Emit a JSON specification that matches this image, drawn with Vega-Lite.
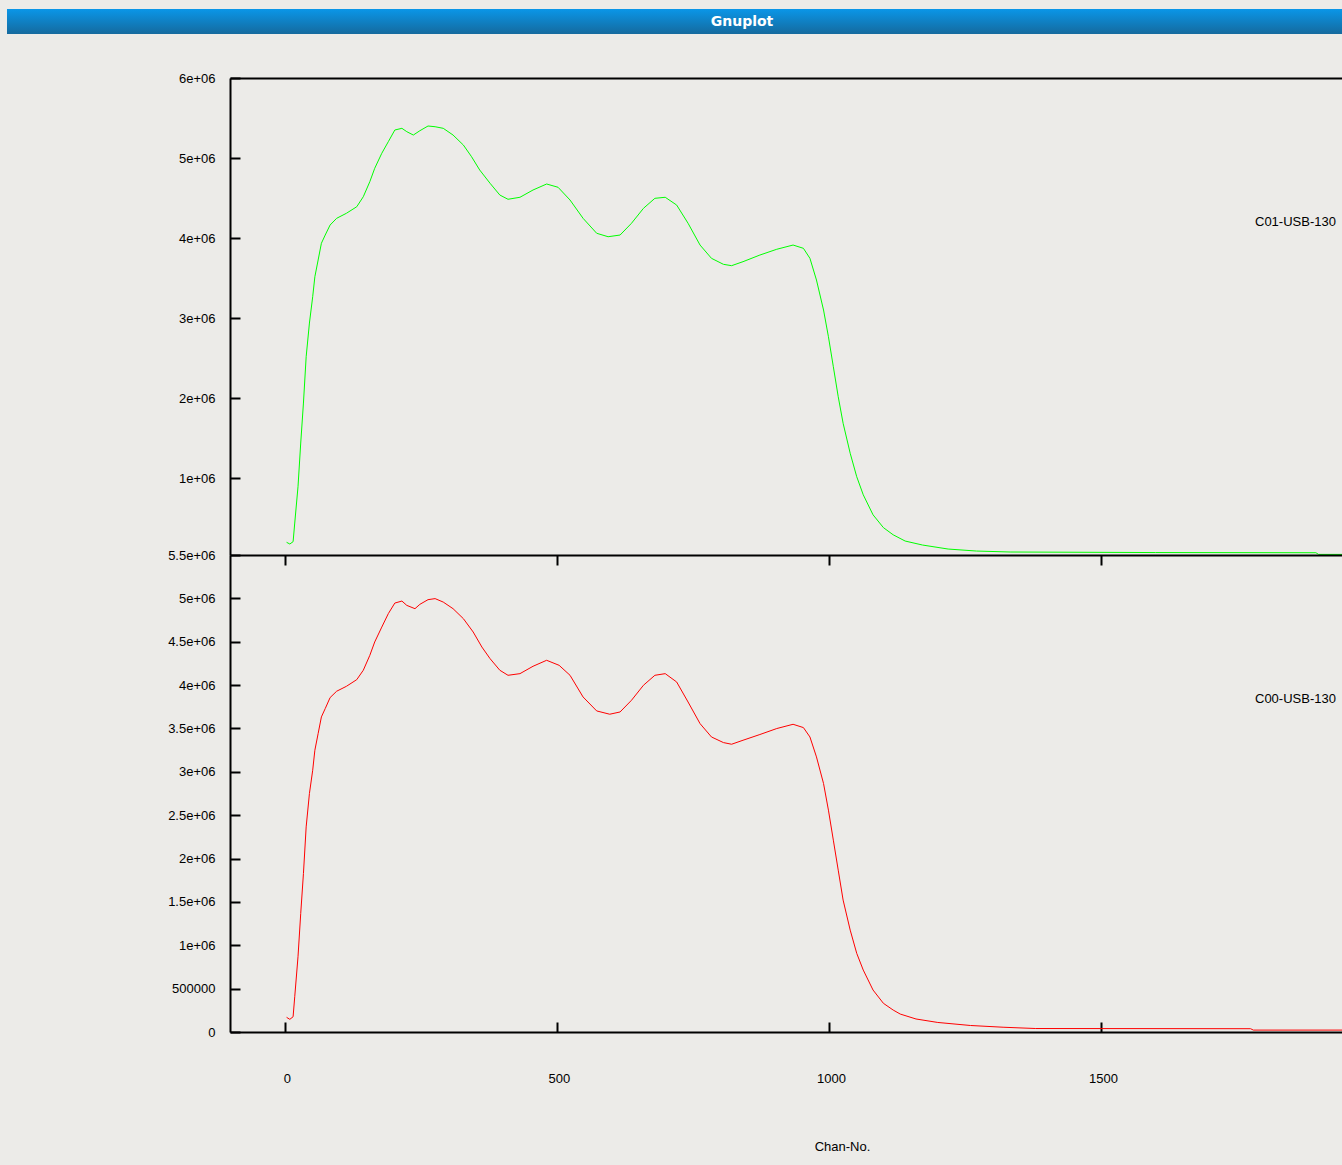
{
  "$schema": "https://vega.github.io/schema/vega-lite/v6.json",
  "background": "#ecebe8",
  "padding": {"left": 7, "top": 9, "right": 0, "bottom": 15},
  "config": {
    "view": {"stroke": null},
    "axis": {
      "labelFont": "Liberation Sans", "labelFontSize": 13, "labelColor": "#000",
      "titleFont": "Liberation Sans", "titleFontSize": 13, "titleFontWeight": "normal", "titleColor": "#000",
      "domainColor": "#000", "domainWidth": 2, "tickColor": "#000", "tickWidth": 2,
      "grid": false, "labelOverlap": false, "labelFlush": false
    }
  },
  "datasets": {
    "c01": [{"chan":3,"val":196000},{"chan":9,"val":175000},{"chan":15,"val":204000},{"chan":18,"val":437000},{"chan":24,"val":891000},{"chan":29,"val":1437000},{"chan":34,"val":1937000},{"chan":39,"val":2516000},{"chan":45,"val":2937000},{"chan":51,"val":3266000},{"chan":55,"val":3516000},{"chan":61,"val":3725000},{"chan":67,"val":3934000},{"chan":74,"val":4037000},{"chan":83,"val":4162000},{"chan":95,"val":4246000},{"chan":113,"val":4309000},{"chan":132,"val":4391000},{"chan":144,"val":4516000},{"chan":156,"val":4704000},{"chan":165,"val":4871000},{"chan":178,"val":5059000},{"chan":190,"val":5204000},{"chan":202,"val":5350000},{"chan":215,"val":5371000},{"chan":224,"val":5329000},{"chan":236,"val":5287000},{"chan":248,"val":5341000},{"chan":263,"val":5400000},{"chan":276,"val":5391000},{"chan":291,"val":5371000},{"chan":309,"val":5287000},{"chan":328,"val":5162000},{"chan":343,"val":5016000},{"chan":358,"val":4850000},{"chan":377,"val":4684000},{"chan":395,"val":4537000},{"chan":410,"val":4484000},{"chan":432,"val":4509000},{"chan":456,"val":4600000},{"chan":481,"val":4675000},{"chan":502,"val":4634000},{"chan":524,"val":4475000},{"chan":548,"val":4246000},{"chan":573,"val":4059000},{"chan":594,"val":4016000},{"chan":616,"val":4037000},{"chan":637,"val":4184000},{"chan":659,"val":4371000},{"chan":680,"val":4496000},{"chan":699,"val":4509000},{"chan":720,"val":4412000},{"chan":741,"val":4184000},{"chan":763,"val":3912000},{"chan":784,"val":3746000},{"chan":806,"val":3671000},{"chan":821,"val":3654000},{"chan":842,"val":3704000},{"chan":873,"val":3787000},{"chan":904,"val":3859000},{"chan":934,"val":3912000},{"chan":953,"val":3871000},{"chan":965,"val":3746000},{"chan":977,"val":3475000},{"chan":990,"val":3100000},{"chan":999,"val":2766000},{"chan":1008,"val":2391000},{"chan":1017,"val":2016000},{"chan":1026,"val":1684000},{"chan":1039,"val":1309000},{"chan":1051,"val":1016000},{"chan":1063,"val":790000},{"chan":1081,"val":540000},{"chan":1100,"val":380000},{"chan":1118,"val":290000},{"chan":1140,"val":212000},{"chan":1172,"val":162000},{"chan":1219,"val":112000},{"chan":1271,"val":87000},{"chan":1333,"val":75000},{"chan":1600,"val":68000},{"chan":1895,"val":66000},{"chan":1900,"val":45000},{"chan":2048,"val":45000}],
    "c00": [{"chan":3,"val":169000},{"chan":9,"val":146000},{"chan":15,"val":176000},{"chan":18,"val":407000},{"chan":24,"val":868000},{"chan":29,"val":1367000},{"chan":34,"val":1828000},{"chan":39,"val":2365000},{"chan":45,"val":2750000},{"chan":51,"val":3018000},{"chan":55,"val":3249000},{"chan":61,"val":3441000},{"chan":67,"val":3633000},{"chan":74,"val":3729000},{"chan":83,"val":3856000},{"chan":95,"val":3929000},{"chan":113,"val":3986000},{"chan":132,"val":4063000},{"chan":144,"val":4171000},{"chan":156,"val":4343000},{"chan":165,"val":4497000},{"chan":178,"val":4669000},{"chan":190,"val":4824000},{"chan":202,"val":4946000},{"chan":215,"val":4969000},{"chan":224,"val":4919000},{"chan":239,"val":4881000},{"chan":248,"val":4931000},{"chan":263,"val":4985000},{"chan":276,"val":4997000},{"chan":291,"val":4957000},{"chan":309,"val":4881000},{"chan":328,"val":4766000},{"chan":346,"val":4612000},{"chan":362,"val":4439000},{"chan":377,"val":4305000},{"chan":395,"val":4171000},{"chan":410,"val":4113000},{"chan":432,"val":4132000},{"chan":456,"val":4217000},{"chan":481,"val":4286000},{"chan":504,"val":4228000},{"chan":524,"val":4113000},{"chan":548,"val":3863000},{"chan":573,"val":3702000},{"chan":597,"val":3664000},{"chan":616,"val":3690000},{"chan":637,"val":3825000},{"chan":659,"val":3998000},{"chan":680,"val":4113000},{"chan":699,"val":4132000},{"chan":720,"val":4036000},{"chan":741,"val":3805000},{"chan":763,"val":3556000},{"chan":784,"val":3402000},{"chan":806,"val":3337000},{"chan":821,"val":3318000},{"chan":842,"val":3364000},{"chan":873,"val":3430000},{"chan":904,"val":3499000},{"chan":934,"val":3548000},{"chan":953,"val":3510000},{"chan":965,"val":3402000},{"chan":977,"val":3172000},{"chan":990,"val":2865000},{"chan":999,"val":2558000},{"chan":1008,"val":2212000},{"chan":1017,"val":1866000},{"chan":1026,"val":1521000},{"chan":1039,"val":1175000},{"chan":1051,"val":907000},{"chan":1063,"val":714000},{"chan":1081,"val":484000},{"chan":1100,"val":331000},{"chan":1118,"val":253000},{"chan":1131,"val":207000},{"chan":1160,"val":150000},{"chan":1200,"val":110000},{"chan":1260,"val":75000},{"chan":1320,"val":55000},{"chan":1380,"val":40000},{"chan":1775,"val":38000},{"chan":1780,"val":22000},{"chan":2048,"val":22000}]
  },
  "spacing": 38,
  "center": true,
  "vconcat": [
    {
      "width": 1558,
      "height": 25,
      "data": {"values": [{"t": "Gnuplot"}]},
      "layer": [
        {
          "mark": {"type": "rect", "fill": {"gradient": "linear", "x1": 0, "y1": 0, "x2": 0, "y2": 1, "stops": [{"offset": 0, "color": "#0a96e8"}, {"offset": 1, "color": "#156a9e"}]}},
          "encoding": {}
        },
        {
          "mark": {"type": "text", "color": "#ffffff", "font": "DejaVu Sans", "fontWeight": "bold", "fontSize": 14, "dx": -44, "baseline": "middle", "align": "center"},
          "encoding": {"text": {"field": "t"}}
        }
      ]
    },
    {
      "spacing": 0,
      "bounds": "flush",
      "resolve": {"scale": {"color": "independent"}, "legend": {"color": "independent"}},
      "vconcat": [
        {
          "width": 1112,
          "height": 477,
          "data": {"name": "c01"},
          "mark": {"type": "line", "strokeWidth": 1, "clip": true},
          "encoding": {
            "x": {"field": "chan", "type": "quantitative", "scale": {"domain": [-101, 1943], "nice": false, "zero": false},
                  "axis": {"orient": "top", "ticks": false, "labels": false, "title": null}},
            "y": {"field": "val", "type": "quantitative", "scale": {"domain": [37500, 6000000], "nice": false, "zero": false},
                  "axis": {"values": [1000000, 2000000, 3000000, 4000000, 5000000, 6000000], "tickSize": -10, "labelPadding": 25, "title": null, "minExtent": 223, "maxExtent": 223,
                           "labelExpr": "datum.value == 0 ? '0' : datum.value < 1000000 ? format(datum.value, 'd') : replace(format(datum.value, '~e'), 'e+', 'e+0')"}},
            "color": {"datum": "C01-USB-130", "type": "nominal", "scale": {"domain": ["C01-USB-130"], "range": ["#00ff00"]},
                      "legend": {"orient": "none", "legendX": 1012, "legendY": 137, "title": null, "symbolSize": 0, "symbolOpacity": 0, "labelOffset": 0, "labelFont": "Liberation Sans", "labelFontSize": 13, "labelColor": "#000"}}
          }
        },
        {
          "width": 1112,
          "height": 477,
          "data": {"name": "c00"},
          "resolve": {"axis": {"x": "independent"}},
          "layer": [
            {
              "mark": {"type": "line", "strokeWidth": 1, "clip": true},
              "encoding": {
                "x": {"field": "chan", "type": "quantitative", "scale": {"domain": [-101, 1943], "nice": false, "zero": false},
                      "axis": {"orient": "bottom", "values": [0, 500, 1000, 1500], "format": "d", "tickSize": -10, "labelPadding": 50, "labelOffset": 2, "title": "Chan-No.", "titlePadding": 55, "titleX": 612}},
                "y": {"field": "val", "type": "quantitative", "scale": {"domain": [0, 5500000], "nice": false},
                      "axis": {"values": [0, 500000, 1000000, 1500000, 2000000, 2500000, 3000000, 3500000, 4000000, 4500000, 5000000, 5500000], "tickSize": -10, "labelPadding": 25, "title": null, "minExtent": 223, "maxExtent": 223,
                               "labelExpr": "datum.value == 0 ? '0' : datum.value < 1000000 ? format(datum.value, 'd') : replace(format(datum.value, '~e'), 'e+', 'e+0')"}},
                "color": {"datum": "C00-USB-130", "type": "nominal", "scale": {"domain": ["C00-USB-130"], "range": ["#ff0000"]},
                          "legend": {"orient": "none", "legendX": 1012, "legendY": 137, "title": null, "symbolSize": 0, "symbolOpacity": 0, "labelOffset": 0, "labelFont": "Liberation Sans", "labelFontSize": 13, "labelColor": "#000"}}
              }
            },
            {
              "mark": {"type": "line", "opacity": 0, "clip": true},
              "encoding": {
                "x": {"field": "chan", "type": "quantitative", "axis": {"orient": "top", "values": [0, 500, 1000, 1500], "tickSize": -10, "labels": false, "title": null}},
                "y": {"field": "val", "type": "quantitative"}
              }
            }
          ]
        }
      ]
    }
  ]
}
